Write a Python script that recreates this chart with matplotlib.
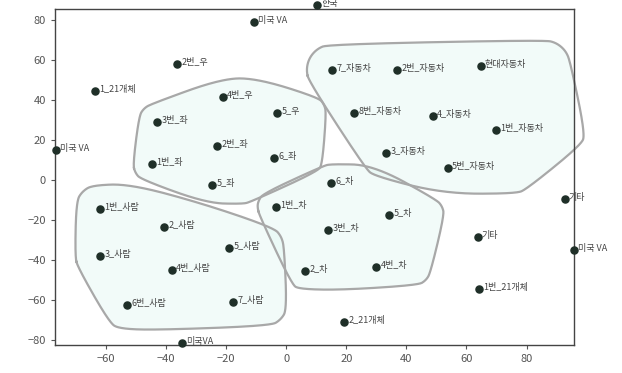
import matplotlib
matplotlib.use("Agg")
import matplotlib.pyplot as plt
import numpy as np

plt.rcParams['font.family'] = ['Noto Sans CJK KR', 'DejaVu Sans']

# 2D embedding coordinates and labels
labels = ['미국 VA', '한국', '2번_우', '1_21개체', '4번_우', '5_우', '3번_좌', '2번_좌', '1번_좌',
          '6_좌', '미국 VA', '5_좌',
          '7_자동차', '2번_자동차', '현대자동차', '8번_자동차', '4_자동차', '1번_자동차', '3_자동차',
          '5번_자동차',
          '6_차', '1번_차', '5_차', '기타', '1번_사람', '2_사람', '5_사람', '3번_차', '기타',
          '3_사람', '4번_사람', '2_차', '4번_차', '미국 VA', '6번_사람', '7_사람', '1번_21개체',
          '2_21개체', '미국VA']
xs = [-10.7, 10.3, -36.3, -63.7, -21.0, -3.0, -43.0, -23.0, -44.7, -4.0, -76.7, -24.7,
      15.3, 37.0, 64.7, 22.7, 48.7, 69.7, 33.3, 53.7,
      15.0, -3.3, 34.3, 92.7, -62.0, -40.7, -19.0, 14.0, 63.7,
      -62.0, -38.0, 6.3, 30.0, 95.7, -53.0, -17.7, 64.3, 19.3, -34.7]
ys = [79.0, 87.5, 58.0, 44.5, 41.5, 33.5, 29.0, 17.0, 8.0, 11.0, 15.0, -2.5,
      55.0, 55.0, 57.0, 33.5, 32.0, 25.0, 13.5, 6.0,
      -1.5, -13.5, -17.5, -9.5, -14.5, -23.5, -34.0, -25.0, -28.5,
      -38.0, -45.0, -45.5, -43.5, -35.0, -62.5, -61.0, -54.5, -71.0, -81.5]

# cluster membership (indices into the arrays above)
clusters = [
    [4, 5, 6, 7, 8, 9, 11],
    [12, 13, 14, 15, 16, 17, 18, 19],
    [24, 25, 26, 29, 30, 34, 35],
    [20, 21, 22, 27, 31, 32],
]
label_room = [30, 64, 30, 36]   # extra px to the right so labels sit inside
pad_px = [19, 26, 25, 19]


def convex_hull(pts):
    pts = sorted(map(tuple, pts))
    def cross(o, a, b):
        return (a[0]-o[0])*(b[1]-o[1]) - (a[1]-o[1])*(b[0]-o[0])
    lower, upper = [], []
    for p in pts:
        while len(lower) >= 2 and cross(lower[-2], lower[-1], p) <= 0:
            lower.pop()
        lower.append(p)
    for p in reversed(pts):
        while len(upper) >= 2 and cross(upper[-2], upper[-1], p) <= 0:
            upper.pop()
        upper.append(p)
    return np.array(lower[:-1] + upper[:-1])


def chaikin(poly, n=5):
    for _ in range(n):
        nxt = np.roll(poly, -1, axis=0)
        q = 0.75*poly + 0.25*nxt
        r = 0.25*poly + 0.75*nxt
        poly = np.empty((2*len(poly), 2))
        poly[0::2] = q
        poly[1::2] = r
    return poly


fig = plt.figure(figsize=(6.22, 3.73), dpi=100)
ax = fig.add_axes([0.0884, 0.075, 0.834, 0.901])
ax.set_xlim(-77, 95.7)
ax.set_ylim(-82.5, 85.5)

# rounded outline around each cluster, built in display space
theta = np.linspace(0, 2*np.pi, 40, endpoint=False)
for idx, room, r in zip(clusters, label_room, pad_px):
    d = ax.transData.transform(np.column_stack([[xs[i] for i in idx], [ys[i] for i in idx]]))
    d = np.vstack([d, d + [room, 0]])
    ring = np.vstack([p + r*np.column_stack([np.cos(theta), np.sin(theta)]) for p in d])
    hull = chaikin(convex_hull(ring)[::3])
    hull = np.vstack([hull, hull[:1]])
    outline = ax.transData.inverted().transform(hull)
    ax.fill(outline[:, 0], outline[:, 1], color='#e6f8f4', alpha=0.5, zorder=1, lw=0)
    ax.plot(outline[:, 0], outline[:, 1], color='#a8a8a8', lw=1.6, zorder=2, clip_on=False)

ax.scatter(xs, ys, s=26, color='#1f2f28', zorder=3, clip_on=False)
for x, y, t in zip(xs, ys, labels):
    ax.annotate(t, (x, y), xytext=(3, 1), textcoords='offset points', fontsize=6.5,
                color='#444444', va='center', annotation_clip=False, zorder=4)

ax.set_xticks([-60, -40, -20, 0, 20, 40, 60, 80])
ax.set_yticks([-80, -60, -40, -20, 0, 20, 40, 60, 80])
ax.tick_params(labelsize=8, colors='#555555', length=3, direction='out')
for s in ax.spines.values():
    s.set_color('#444444')
    s.set_linewidth(1.0)

plt.savefig('out.png', dpi=100)
